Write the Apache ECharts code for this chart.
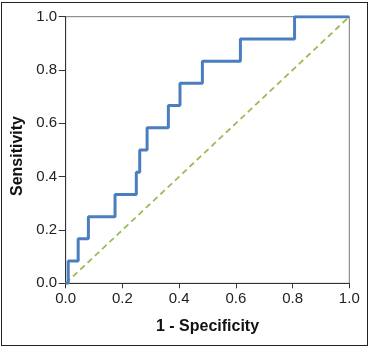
<!DOCTYPE html>
<html>
<head>
<meta charset="utf-8">
<script src="https://cdn.jsdelivr.net/npm/echarts@6/dist/echarts.min.js"></script>
<style>
html,body{margin:0;padding:0;background:#fff;}
#chart{position:absolute;left:0;top:0;width:370px;height:348px;}
#frame{position:absolute;left:1px;top:2px;width:365px;height:342px;border:1.5px solid #222;pointer-events:none;}
</style>
</head>
<body>
<div id="chart"></div>
<div id="frame"></div>
<script>
// ROC curve step points (1 - Specificity, Sensitivity)
const fpr = [0, 0.009, 0.044, 0.080, 0.174, 0.249, 0.261, 0.287, 0.362, 0.403, 0.482, 0.616, 0.807, 1.0];
const tpr = [0, 1/12, 2/12, 3/12, 4/12, 5/12, 6/12, 7/12, 8/12, 9/12, 10/12, 11/12, 1.0, 1.0];
const refX = [0, 1];
const refY = [0, 1];
const tickValues = [0, 0.2, 0.4, 0.6, 0.8, 1.0];
const xTitle = '1 - Specificity';
const yTitle = 'Sensitivity';

const chart = echarts.init(document.getElementById('chart'), null, {renderer: 'canvas'});
const font = '"Liberation Sans", Arial, sans-serif';
const axisCommon = {
  type: 'value', min: 0, max: 1, interval: 0.2,
  axisLine: {show: true, lineStyle: {color: '#333', width: 1}},
  splitLine: {show: false},
  nameLocation: 'middle',
  nameTextStyle: {fontFamily: font, fontWeight: 'bold', fontSize: 16, color: '#111'},
  axisLabel: {fontFamily: font, fontSize: 15, color: '#222',
    formatter: v => tickValues.some(t => Math.abs(t - v) < 1e-9) ? v.toFixed(1) : ''}
};
chart.setOption({
  animation: false,
  grid: {left: 65.7, right: 20.7, top: 16.7, bottom: 64.7, show: true, borderColor: '#777', borderWidth: 1},
  xAxis: Object.assign({}, axisCommon, {name: xTitle, nameGap: 35,
    axisTick: {show: true, length: 5, lineStyle: {color: '#333'}},
    axisLabel: Object.assign({}, axisCommon.axisLabel, {margin: 8})}),
  yAxis: Object.assign({}, axisCommon, {name: yTitle, nameGap: 35,
    axisTick: {show: true, length: 7, lineStyle: {color: '#333'}},
    nameTextStyle: Object.assign({}, axisCommon.nameTextStyle, {padding: [0, 12, 0, 0]}),
    axisLabel: Object.assign({}, axisCommon.axisLabel, {margin: 8.5})}),
  series: [
    {type: 'line', data: refX.map((x, i) => [x, refY[i]]), symbol: 'none',
     lineStyle: {color: '#9bbb59', width: 1.8, type: [6, 4]}, z: 2},
    {type: 'line', data: fpr.map((x, i) => [x, tpr[i]]), step: 'end', symbol: 'none',
     lineStyle: {color: '#4a7ebf', width: 3}, z: 3}
  ]
});
</script>
</body>
</html>
